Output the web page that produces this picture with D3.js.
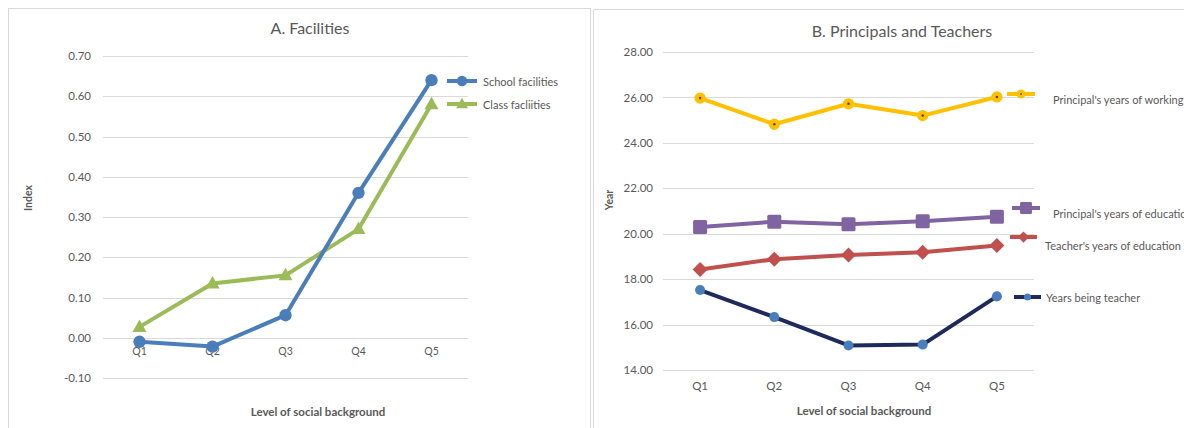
<!DOCTYPE html>
<html><head><meta charset="utf-8">
<script src="https://cdn.jsdelivr.net/npm/d3@7"></script>
<style>
body{margin:0;background:#fff;}
svg{display:block;font-family:Lato,"Open Sans",sans-serif;}
</style></head>
<body>
<svg id="c" width="1184" height="428"></svg>
<script>
const categories = ["Q1","Q2","Q3","Q4","Q5"];
// Panel A
const schoolFacilities = [-0.01, -0.022, 0.056, 0.36, 0.64];
const classFacilities = [0.027, 0.135, 0.155, 0.27, 0.58];
const ticksA = [-0.10, 0.00, 0.10, 0.20, 0.30, 0.40, 0.50, 0.60, 0.70];
// Panel B
const principalWorking = [25.97, 24.82, 25.72, 25.20, 26.02];
const principalEducation = [20.30, 20.53, 20.42, 20.55, 20.75];
const teacherEducation = [18.42, 18.88, 19.06, 19.18, 19.48];
const yearsTeacher = [17.52, 16.33, 15.08, 15.12, 17.24];
const ticksB = [14, 16, 18, 20, 22, 24, 26, 28];

const svg = d3.select("#c");
const txt = "#595959";
const fmt = d => d3.format(".2f")(d).replace("\u2212","-");

// panel frames
svg.append("rect").attr("x",8.5).attr("y",8.5).attr("width",582).attr("height",440).attr("fill","none").attr("stroke","#d9d9d9");
svg.append("rect").attr("x",593.5).attr("y",9.5).attr("width",600).attr("height",440).attr("fill","none").attr("stroke","#d9d9d9");

function markerPath(type){
  if(type==="circle") return d3.symbol(d3.symbolCircle, 120)();
  if(type==="triangle") return "M0,-7.5L7,5L-7,5Z";
  if(type==="square") return "M-7,-5.5Q-7,-7 -5.5,-7L5.5,-7Q7,-7 7,-5.5L7,5.5Q7,7 5.5,7L-5.5,7Q-7,7 -7,5.5Z";
  if(type==="diamond") return "M0,-7.5L7.5,0L0,7.5L-7.5,0Z";
  if(type==="circleS") return d3.symbol(d3.symbolCircle, 80)();
  if(type==="circleY") return d3.symbol(d3.symbolCircle, 100)();
}

function drawSeries(g, x, y, vals, s){
  g.append("path").datum(vals)
    .attr("d", d3.line().x((d,i)=>x(categories[i])).y(d=>y(d)))
    .attr("fill","none").attr("stroke",s.line).attr("stroke-width",s.w).attr("stroke-linejoin","round");
  vals.forEach((d,i)=>{
    g.append("path").attr("d",markerPath(s.marker))
      .attr("transform",`translate(${x(categories[i])},${y(d)})`)
      .attr("fill",s.fill);
    if(s.dot) g.append("circle").attr("cx",x(categories[i])).attr("cy",y(d)).attr("r",1.3).attr("fill","#5a4a2a");
  });
}
function legendItem(g, x1, x2, y, label, tx, ty, s, mscale){
  g.append("line").attr("x1",x1).attr("x2",x2).attr("y1",y).attr("y2",y).attr("stroke",s.line).attr("stroke-width",s.w);
  g.append("path").attr("d",markerPath(s.marker)).attr("transform",`translate(${(x1+x2)/2},${y}) scale(${mscale||0.8})`).attr("fill",s.fill);
  if(s.dot) g.append("circle").attr("cx",(x1+x2)/2).attr("cy",y).attr("r",1).attr("fill","#5a4a2a");
  g.append("text").attr("x",tx).attr("y",ty).attr("dy","0.35em").attr("font-size",11).attr("fill",txt).text(label);
}

// ---------- Panel A ----------
{
  const x = d3.scaleBand().domain(categories).range([103,468]);
  const y = d3.scaleLinear().domain([-0.10,0.70]).range([378,56]);
  const g = svg.append("g");
  const xc = c => x(c)+x.bandwidth()/2;
  g.selectAll(".gA").data(ticksA).join("line")
    .attr("x1",103).attr("x2",468).attr("y1",d=>Math.round(y(d))+0.5).attr("y2",d=>Math.round(y(d))+0.5)
    .attr("stroke","#d9d9d9").attr("stroke-width",1);
  const ya = g.append("g").attr("transform","translate(103,0)")
    .call(d3.axisLeft(y).tickValues(ticksA).tickFormat(fmt).tickSize(0).tickPadding(12));
  ya.select(".domain").remove();
  ya.selectAll("text").attr("font-size",11.5).attr("fill",txt).attr("font-family","Lato,sans-serif");
  const xa = g.append("g").attr("transform",`translate(0,${y(0)})`)
    .call(d3.axisBottom(x).tickSize(0).tickPadding(10));
  xa.select(".domain").remove();
  xa.selectAll("text").attr("font-size",10.5).attr("fill",txt).attr("font-family","Lato,sans-serif");
  const sSchool = {line:"#4a7ebb",w:4,marker:"circle",fill:"#4a7ebb"};
  const sClass = {line:"#9bbb59",w:4,marker:"triangle",fill:"#9bbb59"};
  drawSeries(g, xc, y, classFacilities, sClass);
  drawSeries(g, xc, y, schoolFacilities, sSchool);
  g.append("text").attr("x",310).attr("y",28).attr("dy","0.35em").attr("text-anchor","middle").attr("font-size",16).attr("fill",txt).text("A. Facilities");
  g.append("text").attr("transform","translate(32,198) rotate(-90)").attr("text-anchor","middle").attr("font-size",10.5).attr("font-weight","bold").attr("fill",txt).text("Index");
  g.append("text").attr("x",318).attr("y",412).attr("dy","0.35em").attr("text-anchor","middle").attr("font-size",11.5).attr("font-weight","bold").attr("fill",txt).text("Level of social background");
  legendItem(g,447,477,81,"School facilities",483,82,sSchool,0.85);
  legendItem(g,447,477,104,"Class facliities",483,105,sClass,0.85);
}

// ---------- Panel B ----------
{
  const x = d3.scaleBand().domain(categories).range([663,1034]);
  const y = d3.scaleLinear().domain([14,28]).range([370,52]);
  const g = svg.append("g");
  const xc = c => x(c)+x.bandwidth()/2;
  g.selectAll(".gB").data(ticksB).join("line")
    .attr("x1",663).attr("x2",1034).attr("y1",d=>Math.round(y(d))+0.5).attr("y2",d=>Math.round(y(d))+0.5)
    .attr("stroke","#d9d9d9").attr("stroke-width",1);
  const ya = g.append("g").attr("transform","translate(663,0)")
    .call(d3.axisLeft(y).tickValues(ticksB).tickFormat(fmt).tickSize(0).tickPadding(10));
  ya.select(".domain").remove();
  ya.selectAll("text").attr("font-size",11.5).attr("fill",txt).attr("font-family","Lato,sans-serif");
  const xa = g.append("g").attr("transform",`translate(0,370)`)
    .call(d3.axisBottom(x).tickSize(0).tickPadding(12));
  xa.select(".domain").remove();
  xa.selectAll("text").attr("font-size",11.5).attr("fill",txt).attr("font-family","Lato,sans-serif");
  const sWork = {line:"#ffc000",w:4,marker:"circleY",fill:"#ffc000",dot:true};
  const sPEdu = {line:"#8064a2",w:4,marker:"square",fill:"#8064a2"};
  const sTEdu = {line:"#c0504d",w:4,marker:"diamond",fill:"#c0504d"};
  const sYears = {line:"#1f2a5c",w:4,marker:"circleS",fill:"#4a7ebb"};
  drawSeries(g, xc, y, principalWorking, sWork);
  drawSeries(g, xc, y, principalEducation, sPEdu);
  drawSeries(g, xc, y, teacherEducation, sTEdu);
  drawSeries(g, xc, y, yearsTeacher, sYears);
  g.append("text").attr("x",902).attr("y",31).attr("dy","0.35em").attr("text-anchor","middle").attr("font-size",16).attr("fill",txt).text("B. Principals and Teachers");
  g.append("text").attr("transform","translate(613,200) rotate(-90)").attr("text-anchor","middle").attr("font-size",10.5).attr("font-weight","bold").attr("fill",txt).text("Year");
  g.append("text").attr("x",864).attr("y",411).attr("dy","0.35em").attr("text-anchor","middle").attr("font-size",11.5).attr("font-weight","bold").attr("fill",txt).text("Level of social background");
  legendItem(g,1007,1035,94,"Principal's years of working",1053,100,sWork,0.8);
  legendItem(g,1012,1040,208,"Principal's years of education",1053,214,sPEdu,0.85);
  legendItem(g,1010,1037,237,"Teacher's  years of education",1045,246,sTEdu,0.75);
  legendItem(g,1014,1041,297,"Years  being teacher",1046,298,sYears,0.7);
}
</script>
</body></html>
